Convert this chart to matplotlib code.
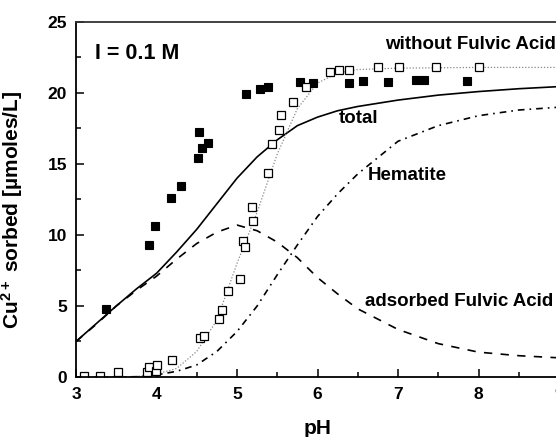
import numpy as np
import matplotlib
matplotlib.use("Agg")
import matplotlib.pyplot as plt
from matplotlib.ticker import MultipleLocator

plt.rcParams['font.family'] = ['Liberation Sans', 'DejaVu Sans']
plt.rcParams['font.weight'] = 'bold'
plt.rcParams['mathtext.fontset'] = 'custom'
plt.rcParams['mathtext.bf'] = 'Liberation Sans:bold'
plt.rcParams['mathtext.rm'] = 'Liberation Sans:bold'
plt.rcParams['mathtext.default'] = 'bf'

# measured Cu sorption with fulvic acid (filled squares)
ph_with = [3.375, 3.91, 3.98, 4.175, 4.31, 4.51, 4.53, 4.57, 4.64, 5.11, 5.29, 5.38,
           5.78, 5.94, 6.39, 6.56, 6.875, 7.22, 7.32, 7.86]
cu_with = [4.8, 9.3, 10.6, 12.6, 13.45, 15.4, 17.25, 16.1, 16.5, 19.9, 20.3, 20.4,
           20.8, 20.7, 20.7, 20.85, 20.8, 20.9, 20.9, 20.85]

# measured Cu sorption without fulvic acid (open squares)
ph_without = [3.1, 3.3, 3.525, 3.88, 3.91, 3.99, 4.0, 4.19, 4.54, 4.59, 4.775, 4.81,
              4.89, 5.04, 5.08, 5.1, 5.2, 5.19, 5.39, 5.44, 5.525, 5.55, 5.70, 5.86,
              6.15, 6.27, 6.39, 6.75, 7.01, 7.47, 8.01]
cu_without = [0.07, 0.07, 0.35, 0.35, 0.7, 0.45, 0.88, 1.2, 2.75, 2.9, 4.05, 4.7,
              6.05, 6.9, 9.6, 9.15, 11.0, 12.0, 14.4, 16.4, 17.4, 18.45, 19.4, 20.4,
              21.5, 21.6, 21.6, 21.8, 21.8, 21.8, 21.8]

# model curves
ph_total = [3, 3.25, 3.5, 3.75, 4, 4.25, 4.5, 4.75, 5, 5.25, 5.5, 5.75, 6, 6.25, 6.5,
            7, 7.5, 8, 8.5, 9]
cu_total = [2.5, 3.75, 5.0, 6.2, 7.3, 8.8, 10.4, 12.2, 14.0, 15.5, 16.7, 17.7, 18.3,
            18.75, 19.05, 19.5, 19.85, 20.1, 20.3, 20.45]

ph_fa = [3, 3.25, 3.5, 3.75, 4, 4.25, 4.5, 4.75, 5, 5.25, 5.5, 5.75, 6, 6.25, 6.5, 7, 7.5, 8, 8.5, 9]
cu_fa = [2.5, 3.7, 5.0, 6.1, 7.1, 8.3, 9.4, 10.2, 10.7, 10.3, 9.5, 8.4, 7.0, 5.85, 4.8,
         3.35, 2.35, 1.75, 1.5, 1.35]

ph_hem = [3, 3.5, 3.75, 4, 4.25, 4.5, 4.75, 5, 5.25, 5.5, 5.75, 6, 6.25, 6.5, 7, 7.5, 8, 8.5, 9]
cu_hem = [0.0, 0.0, 0.02, 0.15, 0.4, 0.85, 1.8, 3.2, 5.0, 7.2, 9.3, 11.3, 12.9, 14.3,
          16.6, 17.7, 18.4, 18.8, 19.0]

ph_nofa = [3.7, 4, 4.25, 4.5, 4.75, 5, 5.25, 5.5, 5.75, 6, 6.25, 6.5, 7, 8, 9]
cu_nofa = [0.0, 0.2, 0.6, 1.8, 4.0, 8.0, 11.6, 15.7, 18.9, 20.7, 21.4, 21.65, 21.75, 21.8, 21.8]

fig = plt.figure(figsize=(5.56, 4.37), dpi=100)
ax = fig.add_axes([0.1367, 0.1373, 0.8687, 0.8124])

ax.plot(ph_total, cu_total, color='black', lw=1.2)
ax.plot(ph_fa, cu_fa, color='black', lw=1.2, linestyle=(0, (5, 5)))
ax.plot(ph_hem, cu_hem, color='black', lw=1.2, linestyle=(0, (4, 3, 1, 3)))
ax.plot(ph_nofa, cu_nofa, color='#888888', lw=0.9, linestyle=(0, (1, 1.5)))

ax.plot(ph_with, cu_with, 's', color='black', markersize=5.5, markeredgewidth=0.8)
ax.plot(ph_without, cu_without, 's', markerfacecolor='white', markeredgecolor='black',
        markersize=5.5, markeredgewidth=0.9)

ax.set_xlim(3, 9)
ax.set_ylim(0, 25)
ax.xaxis.set_major_locator(MultipleLocator(1))
ax.xaxis.set_minor_locator(MultipleLocator(0.5))
ax.yaxis.set_major_locator(MultipleLocator(5))
ax.yaxis.set_minor_locator(MultipleLocator(2.5))
ax.tick_params(which='both', direction='in', top=False, right=False, width=1.1,
               labelsize=12.5)
ax.tick_params(which='major', length=6)
ax.tick_params(which='minor', length=3.5)
ax.tick_params(axis='y', which='major', pad=6.5)
ax.tick_params(axis='x', which='major', pad=7)
for side in ['left', 'bottom', 'top', 'right']:
    ax.spines[side].set_linewidth(1.3)
ax.spines['top'].set_color('#333333')

ax.set_xlabel('pH', fontsize=15, fontweight='bold')
ax.set_ylabel('Cu$^{2+}$ sorbed [µmoles/L]', fontsize=15, fontweight='bold')
ax.yaxis.set_label_coords(-0.106, 0.47)
ax.xaxis.set_label_coords(0.5, -0.118)

ax.text(3.24, 22.8, 'I = 0.1 M', fontsize=15.5, fontweight='bold', va='center')
ax.text(6.84, 23.4, 'without Fulvic Acid', fontsize=13.5, fontweight='bold', va='center')
ax.text(6.27, 18.2, 'total', fontsize=13.5, fontweight='bold', va='center')
ax.text(6.62, 14.2, 'Hematite', fontsize=13.5, fontweight='bold', va='center')
ax.text(6.59, 5.35, 'adsorbed Fulvic Acid', fontsize=13.5, fontweight='bold', va='center')

fig.savefig('out.png', dpi=100)
